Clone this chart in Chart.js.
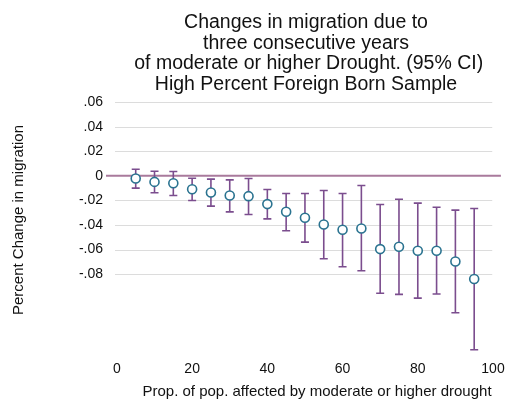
<!DOCTYPE html>
<html>
<head>
<meta charset="utf-8">
<script src="https://cdn.jsdelivr.net/npm/chart.js@4/dist/chart.umd.min.js"></script>
<style>
  html, body { margin: 0; padding: 0; background: #fff; }
  #wrap { width: 507px; height: 402px; }
</style>
</head>
<body>
<div id="wrap"><canvas id="c" width="507" height="402"></canvas></div>
<script>
// Drought share (percent of population affected)
const droughtShare = [5, 10, 15, 20, 25, 30, 35, 40, 45, 50, 55, 60, 65, 70, 75, 80, 85, 90, 95];
// Point estimates of the change in migration
const estimate = [-0.0022, -0.0049, -0.0060, -0.0109, -0.0136, -0.0160, -0.0165, -0.0230, -0.0292, -0.0341,
                  -0.0396, -0.0439, -0.0428, -0.0596, -0.0577, -0.0610, -0.0610, -0.0697, -0.0840];
// 95% confidence interval bounds
const ciLower = [-0.0100, -0.0138, -0.0160, -0.0201, -0.0246, -0.0293, -0.0315, -0.0350, -0.0447, -0.0539,
                 -0.0675, -0.0740, -0.0772, -0.0956, -0.0965, -0.0995, -0.0962, -0.1114, -0.1415];
const ciUpper = [0.0054, 0.0038, 0.0035, -0.0019, -0.0027, -0.0033, -0.0022, -0.0111, -0.0144, -0.0144,
                 -0.0119, -0.0144, -0.0079, -0.0233, -0.0190, -0.0222, -0.0255, -0.0279, -0.0266];
// Axis ticks
const xTicks = [0, 20, 40, 60, 80, 100];
const yTicks = [0.06, 0.04, 0.02, 0, -0.02, -0.04, -0.06, -0.08];

const titleLines = [
  'Changes in migration due to',
  'three consecutive years',
  ' of moderate or higher Drought. (95% CI)',
  'High Percent Foreign Born Sample'
];
const yTitle = 'Percent Change in migration';
const xTitle = 'Prop. of pop. affected by moderate or higher drought';

const FONT = '"Liberation Sans", Arial, Helvetica, sans-serif';

function fmtTick(v) {
  if (Math.abs(v) < 1e-9) return '0';
  const s = Math.abs(v).toFixed(2).replace(/^0/, '');
  return (v < 0 ? '-' : '') + s;
}

// Horizontal grid, zero reference line, CI bars and text
const backdrop = {
  id: 'backdrop',
  beforeDatasetsDraw(chart) {
    const { ctx, chartArea, scales: { x, y } } = chart;
    ctx.save();
    // gridlines
    ctx.strokeStyle = '#dcdcdc';
    ctx.lineWidth = 1;
    const gx0 = x.getPixelForValue(-0.5), gx1 = x.getPixelForValue(99.8);
    yTicks.forEach(v => {
      if (v === 0) return;
      const py = Math.round(y.getPixelForValue(v)) + 0.5;
      ctx.beginPath(); ctx.moveTo(gx0, py); ctx.lineTo(gx1, py); ctx.stroke();
    });
    // zero line
    ctx.strokeStyle = '#a97a9c';
    ctx.lineWidth = 2;
    const zy = y.getPixelForValue(0);
    ctx.beginPath(); ctx.moveTo(chartArea.left, zy); ctx.lineTo(chartArea.right, zy); ctx.stroke();
    // confidence intervals
    ctx.strokeStyle = '#7b4d8e';
    ctx.lineWidth = 1.6;
    droughtShare.forEach((xv, i) => {
      const px = x.getPixelForValue(xv);
      const pLo = y.getPixelForValue(ciLower[i]);
      const pHi = y.getPixelForValue(ciUpper[i]);
      ctx.beginPath();
      ctx.moveTo(px, pHi); ctx.lineTo(px, pLo);
      ctx.moveTo(px - 4, pHi); ctx.lineTo(px + 4, pHi);
      ctx.moveTo(px - 4, pLo); ctx.lineTo(px + 4, pLo);
      ctx.stroke();
    });
    ctx.restore();
  },
  afterDraw(chart) {
    const { ctx } = chart;
    ctx.save();
    ctx.fillStyle = '#111';
    ctx.textAlign = 'center';
    ctx.textBaseline = 'alphabetic';
    ctx.font = '19.5px ' + FONT;
    const cx = 306;
    titleLines.forEach((t, i) => ctx.fillText(t, cx, 28 + i * 20.5));
    ctx.font = '15px ' + FONT;
    ctx.fillText(xTitle, 317, 396);
    ctx.translate(23, 220);
    ctx.rotate(-Math.PI / 2);
    ctx.fillText(yTitle, 0, 0);
    ctx.restore();
  }
};

new Chart(document.getElementById('c'), {
  type: 'scatter',
  data: {
    datasets: [{
      data: droughtShare.map((xv, i) => ({ x: xv, y: estimate[i] })),
      pointStyle: 'circle',
      pointRadius: 4.5,
      pointHoverRadius: 4.5,
      pointBorderWidth: 1.6,
      borderColor: '#2a7390',
      backgroundColor: '#ffffff',
      showLine: false
    }]
  },
  options: {
    responsive: false,
    animation: false,
    events: [],
    layout: { padding: { top: 96, right: 5, left: 0, bottom: 0 } },
    plugins: { legend: { display: false }, tooltip: { enabled: false }, title: { display: false } },
    scales: {
      x: {
        type: 'linear',
        min: -2.9,
        max: 102.1,
        afterBuildTicks: s => { s.ticks = xTicks.map(v => ({ value: v })); },
        afterFit: s => { s.height = 48; s.paddingLeft = 0; s.paddingRight = 0; },
        grid: { display: false, drawTicks: false },
        border: { display: false },
        ticks: { color: '#111', font: { family: FONT, size: 14 }, padding: 7, maxRotation: 0, autoSkip: false }
      },
      y: {
        type: 'linear',
        min: -0.145,
        max: 0.065,
        afterBuildTicks: s => { s.ticks = yTicks.map(v => ({ value: v })); },
        afterFit: s => { s.width = 106; s.paddingTop = 0; s.paddingBottom = 0; },
        grid: { display: false, drawTicks: false },
        border: { display: false },
        ticks: { color: '#111', font: { family: FONT, size: 14 }, padding: 3, callback: v => fmtTick(v), autoSkip: false }
      }
    }
  },
  plugins: [backdrop]
});
</script>
</body>
</html>
